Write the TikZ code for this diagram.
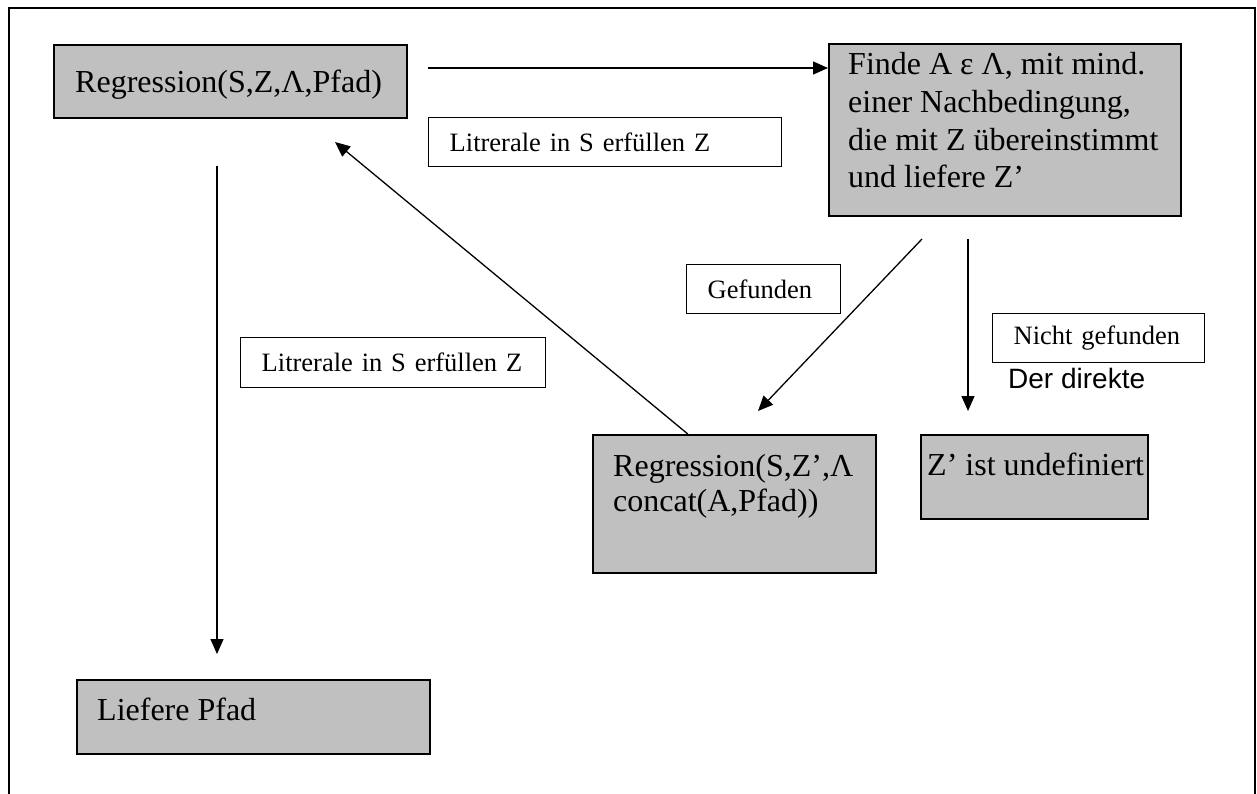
\documentclass[tikz,border=0pt]{standalone}
\usepackage{fontspec}
\setmainfont{Liberation Serif}
\newfontfamily\arialfont{Liberation Sans}
\usetikzlibrary{arrows.meta,calc,positioning}
\definecolor{boxgray}{HTML}{C0C0C0}

\begin{document}
\begin{tikzpicture}[x=1pt,y=-1pt,
  procbox/.style={draw, line width=1.6pt, fill=boxgray, anchor=north west, inner sep=0pt},
  proctext/.style={anchor=base west, inner sep=0pt, align=left, font=\fontsize{32}{37.7}\selectfont},
  lblbox/.style={draw, line width=1.4pt, fill=white, anchor=north west, inner xsep=21pt, inner ysep=0pt, align=left, font=\fontsize{26.5}{30}\selectfont},
  arr/.style={-{Triangle[length=15pt,width=13pt]}, line width=1.3pt}]
  \useasboundingbox (0,0) rectangle (1257,794);

  % frame
  \draw[line width=1.4pt] (9,800) -- (9,8) -- (1255,8) -- (1255,800);

  % process boxes
  \node[procbox, minimum width=353, minimum height=73] (regr) at (53,44) {};
  \node[procbox, minimum width=352, minimum height=172] (finde) at (828,43) {};
  \node[procbox, minimum width=283, minimum height=138] (rek) at (592,434) {};
  \node[procbox, minimum width=227, minimum height=84] (undef) at (920,434) {};
  \node[procbox, minimum width=353, minimum height=74] (liefer) at (76,679) {};

  % box texts (base = last line)
  \node[proctext] (regrtext) at (75,93) {Regression(S,Z,Λ,Pfad)};
  \node[proctext] (findetext) at (848,188) {Finde A ε Λ, mit mind.\\einer Nachbedingung,\\die mit Z übereinstimmt\\und liefere Z’};
  \node[proctext, font=\fontsize{32}{35}\selectfont] (rektext) at (613,511) {Regression(S,Z’,Λ\\concat(A,Pfad))};
  \node[proctext] (undeftext) at (927,475) {Z’ ist undefiniert};
  \node[proctext] (liefertext) at (97,720) {Liefere Pfad};

  % labels
  \node[lblbox, minimum height=49, text width=311pt] (lit1) at (428,117) {Litrerale in S erfüllen Z};
  \node[lblbox, minimum height=50, text width=263pt] (lit2) at (240,337) {Litrerale in S erfüllen Z};
  \node[lblbox, minimum height=49, text width=112pt] (gef) at (686,264) {Gefunden};
  \node[lblbox, minimum height=49, text width=170pt] (nichtgef) at (992,313) {Nicht gefunden};
  \node[anchor=base west, inner sep=0pt, font=\arialfont\fontsize{28}{32}\selectfont] (direkt) at (1008,388) {Der direkte};

  % connectors
  \coordinate (topstart) at (428,68);
  \draw[arr] (topstart) -- (topstart -| finde.west);
  \coordinate (gefstart) at (922,239);
  \coordinate (gefend) at (758,411);
  \draw[arr] (gefstart) -- (gefend);
  \coordinate (nichtstart) at (968,239);
  \draw[arr] (nichtstart) -- (nichtstart |- gefend);
  \coordinate (backend) at (335,142);
  \draw[arr] ([xshift=-46.5pt]rek.north) -- (backend);
  \coordinate (leftstart) at (217,166);
  \draw[arr, shorten >=25pt] (leftstart) -- (leftstart |- liefer.north);
\end{tikzpicture}
\end{document}
